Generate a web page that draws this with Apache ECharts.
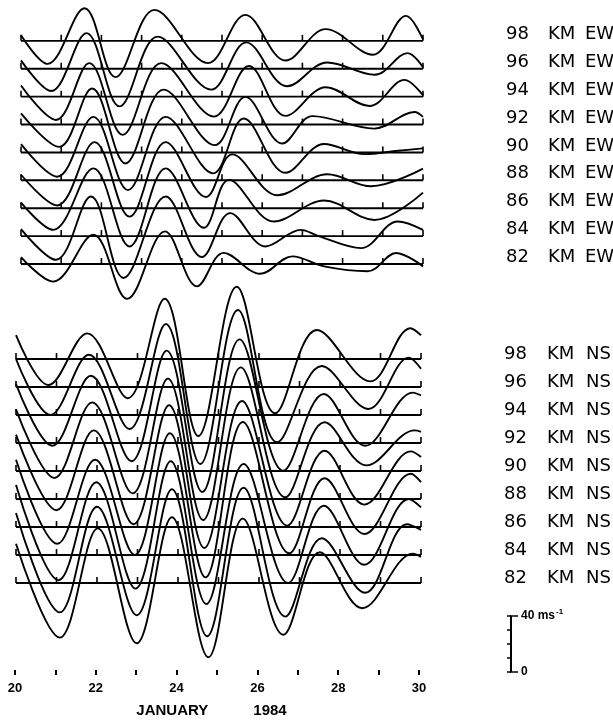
<!DOCTYPE html>
<html><head><meta charset="utf-8">
<script src="https://cdn.jsdelivr.net/npm/echarts@6/dist/echarts.min.js"></script>
<style>html,body{margin:0;padding:0;background:#fff}#c{width:613px;height:722px}</style>
</head><body><div id="c"></div><script>
// Tick days along the time axis (January 1984)
const days = [20,21,22,23,24,25,26,27,28,29,30];
// Altitudes of the stacked traces, top to bottom
const heights = [98,96,94,92,90,88,86,84,82];
// Spacing between successive trace baselines, ms^-1
const spacing = 20;
// Scale bar ticks, ms^-1
const scaleTicks = [0,10,20,30,40];

// EW wind (ms^-1) read at turning points: [day, value]
const ew98 = [[20,4],[20.66,-16.5],[21.58,23.4],[22.35,-26],[23.32,22.2],[24.65,-16],[25.58,18.6],[26.58,-14.1],[27.58,8.4],[28.75,-10],[29.58,17.9],[30,1]];
const ew96 = [[20,6],[20.75,-16],[21.63,25.5],[22.45,-27],[23.4,23],[24.73,-15],[25.6,18.9],[26.62,-12.6],[27.62,4.5],[28.8,-4.3],[29.62,11.2],[30,1]];
const ew94 = [[20,8],[20.87,-16.7],[21.7,24],[22.53,-27.4],[23.49,24],[24.8,-14.3],[25.67,22],[26.58,-13.8],[27.58,6.7],[28.67,-6.7],[29.54,12],[30,1]];
const ew92 = [[20,8],[20.95,-16],[21.77,25.8],[22.6,-27.9],[23.55,25],[24.82,-14.8],[25.58,19.8],[26.5,-13.6],[27.25,6],[28.79,-2.9],[29.79,9],[30,5.5]];
const ew90 = [[20,6],[20.9,-17.4],[21.8,25.5],[22.66,-27],[23.6,25.5],[24.78,-15],[25.54,24.3],[26.58,-14.6],[27.54,6],[28.54,-1.2],[29.38,1.2],[30,2.9]];
const ew88 = [[20,4],[20.9,-18],[21.83,27.4],[22.7,-26],[23.6,27.4],[24.6,-12],[25.25,18.6],[26.38,-10.7],[27.62,4.3],[28.71,-4.3],[30,8.4]];
const ew86 = [[20,4],[20.8,-15.5],[21.8,28.6],[22.7,-27.4],[23.6,28.6],[24.55,-14],[25.17,20.3],[26.29,-9.5],[27.54,5.5],[28.79,-8.4],[30,11.2]];
const ew84 = [[20,5],[20.87,-17],[21.74,28.4],[22.55,-30],[23.6,28.4],[24.5,-15],[25.2,16.5],[26.08,-7.4],[26.96,4.5],[27.4,0],[28.46,-8.6],[29.37,10.5],[30,4.5]];
const ew82 = [[20,5],[20.8,-12.6],[21.8,21],[22.64,-25],[23.58,23.4],[24.38,-16],[25.04,8],[25.95,-7],[26.75,5.5],[27.54,-1.7],[28.63,-5.2],[29.33,7.9],[30,-1.7]];

// NS wind (ms^-1) read at turning points: [day, value]
const ns98 = [[20,17],[20.8,-18.6],[21.76,18.3],[22.76,-28],[23.67,43],[24.5,-55],[25.45,51.6],[26.4,-38.8],[27.43,20.7],[28.75,-16],[29.74,22],[30,17]];
const ns96 = [[20,20],[20.85,-20],[21.8,23],[22.8,-30],[23.7,45],[24.55,-55],[25.48,55],[26.45,-39.5],[27.55,15],[28.7,-15.7],[29.7,21],[30,13]];
const ns94 = [[20,22],[20.9,-22],[21.85,28],[22.85,-33],[23.72,46],[24.6,-55],[25.52,54],[26.6,-39.8],[27.6,15],[28.62,-22],[29.8,16],[30,14]];
const ns92 = [[20,24],[20.95,-25],[21.88,29],[22.88,-36],[23.75,46],[24.62,-55],[25.55,54],[26.65,-38.8],[27.62,14.8],[28.65,-16],[29.85,9],[30,8]];
const ns90 = [[20,26],[21.0,-28],[21.92,29],[22.9,-38],[23.78,47],[24.65,-55],[25.58,50],[26.7,-39],[27.62,14.5],[28.6,-24],[29.75,14],[30,10]];
const ns88 = [[20,28],[21.02,-32],[21.95,28],[22.93,-40],[23.8,47],[24.68,-56],[25.6,55],[26.75,-38.8],[27.62,14.8],[28.6,-25],[29.75,18],[30,12]];
const ns86 = [[20,30],[21.05,-38],[21.98,32],[22.95,-44],[23.82,47],[24.7,-55],[25.62,45],[26.72,-40],[27.6,15.2],[28.6,-27],[29.7,20],[30,14]];
const ns84 = [[20,30],[21.08,-41],[22.0,34.5],[22.98,-43],[23.85,47],[24.72,-58],[25.62,48],[26.65,-44],[27.55,12],[28.62,-27],[29.65,22],[30,18]];
const ns82 = [[20,28],[21.08,-39],[22.02,39],[22.98,-43],[23.85,47],[24.75,-53],[25.6,46],[26.6,-37],[27.5,22],[28.55,-18],[29.8,21],[30,18.6]];

const ewTraces = [ew98,ew96,ew94,ew92,ew90,ew88,ew86,ew84,ew82];
const nsTraces = [ns98,ns96,ns94,ns92,ns90,ns88,ns86,ns84,ns82];

const offsetOf = k => (heights.length - 1 - k) * spacing;
const INK = '#000';

function traceSeries(trace, k, g) {
  const off = offsetOf(k);
  return {
    type: 'line', xAxisIndex: g, yAxisIndex: g,
    data: trace.map(p => [p[0], p[1] + off]),
    smooth: 0.36, showSymbol: false, symbol: 'none',
    lineStyle: { color: INK, width: 1.9 }, silent: true, z: 3
  };
}
function baselineSeries(g) {
  return {
    type: 'custom', xAxisIndex: g, yAxisIndex: g, clip: false, silent: true, z: 4,
    data: heights.map((h, k) => [days[0], offsetOf(k)]),
    renderItem: (params, api) => {
      const off = api.value(1);
      const p0 = api.coord([days[0], off]);
      const p1 = api.coord([days[days.length - 1], off]);
      const children = [{ type: 'line', shape: { x1: p0[0], y1: p0[1], x2: p1[0], y2: p1[1] },
        style: { stroke: INK, lineWidth: 1.9 } }];
      days.forEach(d => {
        const p = api.coord([d, off]);
        children.push({ type: 'line', shape: { x1: p[0], y1: p[1], x2: p[0], y2: p[1] - 6 },
          style: { stroke: INK, lineWidth: 1.6 } });
      });
      return { type: 'group', children };
    }
  };
}
function labelAxis(g, tag, min, max, margin, pad, wa, wb) {
  const fs = { fontFamily: 'DejaVu Sans', fontSize: 18, color: INK, align: 'left' };
  return {
    gridIndex: g, type: 'value', min, max, interval: 10, position: 'right',
    axisLine: { show: false }, axisTick: { show: false }, splitLine: { show: false },
    axisLabel: {
      margin, padding: [0, 0, pad, 0],
      formatter: v => {
        if (v < 0 || v > offsetOf(0) || v % spacing !== 0) return '';
        const h = heights[heights.length - 1 - v / spacing];
        return '{a|' + h + '}{b|KM}{c|' + tag + '}';
      },
      rich: { a: Object.assign({ width: wa }, fs), b: Object.assign({ width: wb }, fs), c: fs }
    }
  };
}
const hiddenX = g => ({ gridIndex: g, type: 'value', min: days[0], max: days[days.length - 1], show: false });

const series = [];
ewTraces.forEach((t, k) => series.push(traceSeries(t, k, 0)));
nsTraces.forEach((t, k) => series.push(traceSeries(t, k, 1)));
series.push(baselineSeries(0), baselineSeries(1));

const option = {
  animation: false,
  backgroundColor: '#fff',
  grid: [
    { left: 21, right: 190, top: -1, height: 320.8, outerBoundsMode: 'none', containLabel: false },
    { left: 16, right: 192, top: 261, height: 420, outerBoundsMode: 'none', containLabel: false },
    { left: 15, right: 194, top: 650, height: 20, outerBoundsMode: 'none', containLabel: false },
    { left: 511, width: 1, top: 616, height: 56, outerBoundsMode: 'none', containLabel: false }
  ],
  xAxis: [
    hiddenX(0), hiddenX(1),
    { gridIndex: 2, type: 'value', min: days[0], max: days[days.length - 1], interval: 1,
      axisLine: { show: false }, splitLine: { show: false },
      axisTick: { show: true, length: 5, lineStyle: { color: INK, width: 2 } },
      axisLabel: { margin: 12, color: INK, fontFamily: 'Liberation Sans', fontWeight: 'bold', fontSize: 13,
        formatter: v => (v % 2 === 0 ? String(v) : '') },
      name: '{a|JANUARY}{b|1984}', nameLocation: 'middle', nameGap: 33,
      nameTextStyle: { padding: [0, 11, 0, 0],
        rich: { a: { width: 117, align: 'left', fontFamily: 'Liberation Sans', fontWeight: 'bold', fontSize: 15, color: INK },
                b: { align: 'left', fontFamily: 'Liberation Sans', fontWeight: 'bold', fontSize: 15, color: INK } } } },
    { gridIndex: 3, type: 'value', min: 0, max: 1, show: false }
  ],
  yAxis: [
    labelAxis(0, 'EW', -40, 190, 83, 13, 42, 37),
    labelAxis(1, 'NS', -70, 230, 83, 9, 43, 39),
    { gridIndex: 2, type: 'value', show: false },
    { gridIndex: 3, type: 'value', min: scaleTicks[0], max: scaleTicks[scaleTicks.length - 1], interval: 10,
      position: 'left', splitLine: { show: false },
      axisLine: { show: true, lineStyle: { color: INK, width: 2 } },
      axisTick: { show: true, length: 4, lineStyle: { color: INK, width: 1.5 } },
      axisLabel: { show: false } },
    { gridIndex: 3, type: 'value', min: scaleTicks[0], max: scaleTicks[scaleTicks.length - 1], interval: 40,
      position: 'right', splitLine: { show: false },
      axisLine: { show: false },
      axisTick: { show: true, length: 6, lineStyle: { color: INK, width: 1.5 } },
      axisLabel: { margin: 9,
        formatter: v => (v === 40 ? '{a|40 ms}{b|-1}' : v === 0 ? '{a|0}' : ''),
        rich: { a: { fontFamily: 'Liberation Sans', fontWeight: 'bold', fontSize: 12, color: INK, lineHeight: 16 },
                b: { fontFamily: 'Liberation Sans', fontWeight: 'bold', fontSize: 8, color: INK, verticalAlign: 'top', padding: [0, 0, 0, 1] } } } }
  ],
  series
};
const chart = echarts.init(document.getElementById('c'), null, { renderer: 'canvas' });
chart.setOption(option);
</script></body></html>
